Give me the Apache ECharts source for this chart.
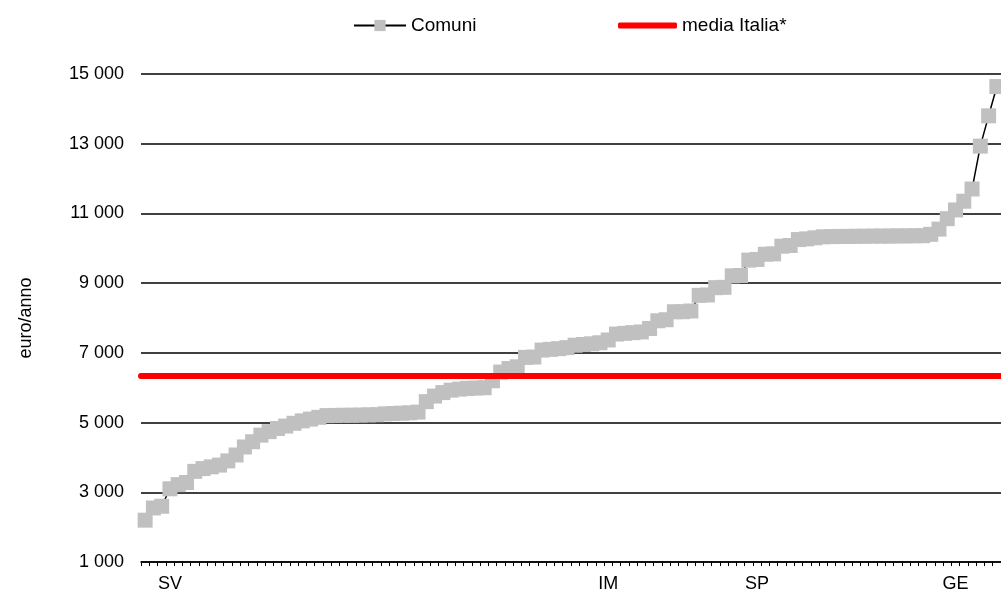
<!DOCTYPE html>
<html>
<head>
<meta charset="utf-8">
<script src="https://cdn.jsdelivr.net/npm/echarts@6/dist/echarts.min.js"></script>
<style>
  html, body { margin: 0; padding: 0; background: #fff; }
  #main { width: 1001px; height: 597px; }
</style>
</head>
<body>
<div id="main"></div>
<script>
// spesa per comune, ordinata (euro/anno)
var comuni = [
  2200, 2550, 2600, 3100, 3220, 3280, 3600, 3680, 3730, 3780,
  3900, 4070, 4300, 4450, 4640, 4740, 4830, 4900, 4980, 5050,
  5100, 5150, 5200, 5205, 5210, 5210, 5215, 5220, 5225, 5250,
  5260, 5270, 5280, 5300, 5600, 5760, 5860, 5930, 5960, 5980,
  5990, 6000, 6200, 6450, 6550, 6600, 6870, 6880, 7080, 7100,
  7120, 7150, 7220, 7240, 7260, 7290, 7370, 7540, 7560, 7580,
  7600, 7700, 7920, 7950, 8180, 8180, 8200, 8650, 8660, 8870,
  8880, 9210, 9220, 9660, 9680, 9830, 9840, 10060, 10080, 10250,
  10270, 10300, 10330, 10335, 10340, 10340, 10345, 10345, 10350, 10350,
  10350, 10355, 10355, 10360, 10360, 10400, 10550, 10850, 11100, 11350,
  11700, 12930, 13800, 14640
];
var mediaItalia = 6340;

// etichette dell'asse x (solo alcuni capoluoghi)
var labelIndex = [3, 56, 74, 98];
var labelText = ['SV', 'IM', 'SP', 'GE'];

var categories = [];
for (var i = 0; i < comuni.length; i++) categories.push('c' + i);

var yTicks = [1000, 3000, 5000, 7000, 9000, 11000, 13000, 15000];

var font = '"Liberation Sans", Arial, sans-serif';

var myChart = echarts.init(document.getElementById('main'));

var option = {
  animation: false,
  textStyle: { fontFamily: font },
  legend: [{
    data: ['Comuni'],
    left: 353, top: 16, padding: 0,
    itemWidth: 52, itemHeight: 14,
    textStyle: { fontFamily: font, fontSize: 19, color: '#000' }
  }, {
    data: [{ name: 'media Italia*', icon: 'roundRect' }],
    left: 618, top: 16, padding: 0,
    itemWidth: 59, itemHeight: 6,
    textStyle: { fontFamily: font, fontSize: 19, color: '#000' }
  }],
  grid: { left: 141, right: 0, top: 74, bottom: 35 },
  xAxis: {
    type: 'category',
    data: categories,
    boundaryGap: true,
    axisLine: { lineStyle: { color: '#000', width: 1.5 } },
    axisTick: { show: true, interval: 0, length: 4, lineStyle: { color: '#000', width: 1 } },
    axisLabel: {
      interval: 0,
      margin: 13,
      fontFamily: font, fontSize: 18, color: '#000',
      formatter: function (val, idx) {
        var k = labelIndex.indexOf(idx);
        return k >= 0 ? labelText[k] : '';
      }
    },
    splitLine: { show: false }
  },
  yAxis: {
    type: 'value',
    min: 1000, max: 15000, interval: 2000,
    name: 'euro/anno',
    nameLocation: 'middle',
    nameGap: 106,
    nameTextStyle: { fontFamily: font, fontSize: 18, color: '#000' },
    axisLine: { show: false },
    axisTick: { show: false },
    axisLabel: {
      margin: 17,
      fontFamily: font, fontSize: 18, color: '#000',
      formatter: function (v) {
        return yTicks.indexOf(v) >= 0 ? String(v).replace(/\B(?=(\d{3})+(?!\d))/g, ' ') : '';
      }
    },
    splitLine: { show: true, lineStyle: { color: '#000', width: 1.5 } }
  },
  series: [{
    name: 'Comuni',
    type: 'line',
    data: comuni,
    symbol: 'rect',
    symbolSize: 15,
    showAllSymbol: true,
    itemStyle: { color: '#c0c0c0' },
    lineStyle: { color: '#000', width: 1.5 },
    z: 3
  }, {
    name: 'media Italia*',
    type: 'line',
    data: [],
    symbol: 'none',
    itemStyle: { color: '#ff0000' },
    lineStyle: { color: '#ff0000', width: 6, cap: 'round' },
    markLine: {
      silent: true,
      symbol: 'none',
      label: { show: false },
      lineStyle: { color: '#ff0000', width: 6, type: 'solid', cap: 'round' },
      data: [{ yAxis: mediaItalia }]
    },
    z: 5
  }]
};

myChart.setOption(option);
</script>
</body>
</html>
